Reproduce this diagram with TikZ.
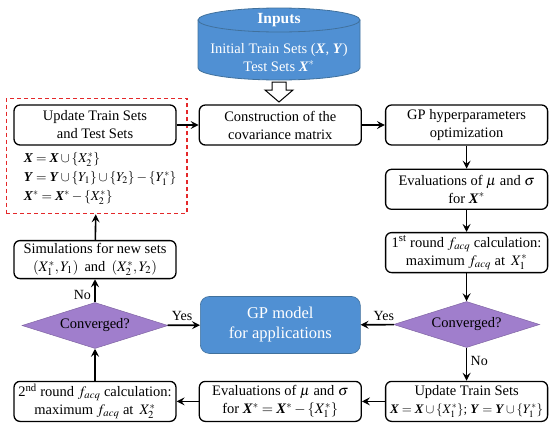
\documentclass[tikz,border=0pt]{standalone}
\usepackage{mathptmx}
\usepackage{fontspec}
\setmainfont{Liberation Serif}
\usepackage{tikz}
\usetikzlibrary{shapes.geometric, arrows.meta, positioning, fit}
\definecolor{boxblue}{HTML}{5090D3}
\definecolor{boxedge}{HTML}{41719C}
\definecolor{decpurple}{HTML}{A07ECC}
\definecolor{dashred}{HTML}{E4282A}
\newcommand{\bX}{\textbf{\textit{X}}}
\newcommand{\bY}{\textbf{\textit{Y}}}

\begin{document}
\begin{tikzpicture}[
    x=1pt, y=-1pt,
    font=\fontsize{14.5}{18}\selectfont,
    proc/.style={rectangle, rounded corners=6pt, draw, line width=1.3pt,
                 minimum width=162pt, minimum height=40pt, inner sep=1pt,
                 align=center},
    decision/.style={diamond, aspect=3.2, fill=decpurple, draw=decpurple!80!black,
                     line width=0.5pt, minimum width=146pt, minimum height=46pt,
                     inner sep=0pt},
    result/.style={rectangle, rounded corners=9pt, fill=boxblue, draw=boxedge,
                   line width=0.6pt, minimum width=160pt, minimum height=57pt,
                   align=center, text=white, font=\fontsize{16.5}{20}\selectfont},
    arrow/.style={-{Stealth[length=8pt, width=8pt, inset=3pt]}, line width=1.6pt},
    lbl/.style={font=\fontsize{14}{16}\selectfont}
]
\useasboundingbox (0,0) rectangle (550,426);

% inputs cylinder
\fill[boxblue, draw=boxedge, line width=0.8pt] (198,20) -- (198,68)
    arc[start angle=180, end angle=0, x radius=81, y radius=12] -- (360,20) -- cycle;
\draw[boxedge, fill=boxblue, line width=0.8pt] (279,20) ellipse [x radius=81, y radius=12];
\node[text=white, align=center] (inputs) at (279,42)
    {{\fontsize{15.5}{18}\selectfont\textbf{Inputs}}\\[12pt]
     Initial Train Sets ($\bX$, $\bY$)\\ Test Sets $\bX^*$};

% hollow arrow
\draw[line width=1pt, fill=white] (272,82) -- (286,82) -- (286,90) -- (293,90)
    -- (279,102) -- (265,90) -- (272,90) -- cycle;

% top row
\node[proc] (upd) at (95,125) {Update Train Sets\\ and Test Sets};
\node[proc, right=22pt of upd] (constr) {Construction of the\\ covariance matrix};
\node[proc, right=23pt of constr] (gphyp) {GP hyperparameters\\ optimization};

\node[below right=3pt and 7pt of upd.south west, align=left,
      font=\fontsize{13.5}{19}\selectfont] (eqs)
    {$\bX = \bX \cup \{X_2^*\}$\\
     $\bY = \bY \cup \{Y_1\} \cup \{Y_2\} - \{Y_1^*\}$\\
     $\bX^* = \bX^* - \{X_2^*\}$};
\node[draw=dashred, dashed, dash pattern=on 4pt off 3pt, line width=1.4pt,
      inner xsep=7pt, inner ysep=6pt, fit=(upd)(eqs)] (updset) {};

% right column
\node[proc, below=23pt of gphyp] (evalA) {Evaluations of $\mu$ and $\sigma$\\ for $\bX^*$};
\node[proc, below=22pt of evalA] (round1)
    {1\textsuperscript{st} round $f_{acq}$ calculation:\\ maximum $f_{acq}$ at \,$X_1^*$};
\node[decision, below=28pt of round1] (convR) {Converged?};
\node[proc, below=33pt of convR] (updTrain)
    {Update Train Sets\\
     {\fontsize{13}{15}\selectfont $\bX = \bX \cup \{X_1^*\}$; $\bY = \bY \cup \{Y_1^*\}$}};

% bottom row
\node[proc, left=23pt of updTrain] (evalB)
    {Evaluations of $\mu$ and $\sigma$\\ for $\bX^* = \bX^* - \{X_1^*\}$};
\node[proc, left=22pt of evalB] (round2)
    {2\textsuperscript{nd} round $f_{acq}$ calculation:\\ maximum $f_{acq}$ at \,$X_2^*$};

% left column
\node[decision, above=32pt of round2] (convL) {Converged?};
\node[proc, above=23pt of convL, minimum height=38pt] (sim)
    {Simulations for new sets\\ $(X_1^*, Y_1)$ \,and\, $(X_2^*, Y_2)$};

\node[result, above=27pt of evalB] (gpmodel) {GP model\\ for applications};

\draw[arrow] (upd) -- (constr);
\draw[arrow] (constr) -- (gphyp);
\draw[arrow] (gphyp) -- (evalA);
\draw[arrow] (evalA) -- (round1);
\draw[arrow] (round1) -- (convR);
\draw[arrow] (convR) -- node[lbl, above, pos=0.3] {Yes} (gpmodel);
\draw[arrow] (convR) -- node[lbl, right, pos=0.4] {No} (updTrain);
\draw[arrow] (updTrain) -- (evalB);
\draw[arrow] (evalB) -- (round2);
\draw[arrow] (round2) -- (convL);
\draw[arrow] (convL) -- node[lbl, above, pos=0.45] {Yes} (gpmodel);
\draw[arrow] (convL) -- node[lbl, left, pos=0.3] {No} (sim);
\draw[arrow] (sim) -- (updset);

\end{tikzpicture}
\end{document}
